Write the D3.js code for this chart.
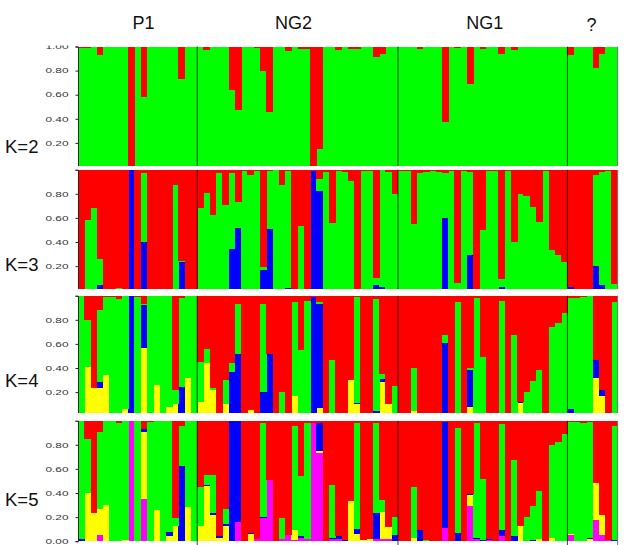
<!DOCTYPE html>
<html>
<head>
<meta charset="utf-8">
<script src="https://cdn.jsdelivr.net/npm/d3@7"></script>
<style>
  body { margin: 0; background: #fff; }
  svg { display: block; }
</style>
</head>
<body>
<svg id="chart" width="626" height="545"></svg>
<script>
// populations, in plot order, and how many individuals each one has
const groups = ['P1', 'NG2', 'NG1', '?'];
const groupSizes = [19, 32, 27, 8];
const kLabels = ['K=2', 'K=3', 'K=4', 'K=5'];
const yTicks = [0, 0.2, 0.4, 0.6, 0.8, 1];

// K=2: green share per individual (red is the rest)
const k2 = [
  0.99, 0.99, 1, 0.93, 1, 1, 1, 1, 0, 1, 0.58, 1, 1, 1, 1, 1, 0.73, 1, 1,
  1, 0.97, 1, 1, 1, 0.64, 0.47, 1, 1, 0.99, 0.8, 0.46, 1, 1, 0.96, 1, 0.98, 0.98, 0, 0.15,
  1, 1, 0.97, 1, 0.98, 0.98, 1, 1, 0.91, 0.94, 1, 1,
  1, 1, 1, 0.98, 1, 1, 1, 0.37, 1, 0.99, 1, 0.69, 1, 0.98, 1, 1, 0.94, 1, 0.97, 1, 1, 1, 1, 1, 1, 1, 1,
  0.93, 1, 1, 1, 0.82, 0.94, 1, 1
];

// K=3: [blue, green] (red is the rest)
const k3 = [
  [0, 0], [0, 0.58], [0, 0.68], [0.04, 0.22], [0, 0], [0, 0], [0, 0.02], [0, 0], [1, 0], [0, 0],
  [0.4, 0.57], [0, 0], [0, 0], [0, 0], [0, 0], [0, 0.87], [0.23, 0.01], [0, 0], [0, 0],
  [0, 0.68], [0.01, 0.8], [0, 0.62], [0, 0.97], [0, 0.71], [0.34, 0.63], [0.52, 0.21], [0, 0.99],
  [0, 0.96], [0, 0.99], [0.17, 0.02], [0.51, 0.48], [0, 1], [0, 0.87], [0.02, 0.97], [0.01, 0],
  [0.01, 0.52], [0, 0], [0.99, 0], [0.82, 0.1], [0, 0.98], [0, 0.56], [0.01, 0.98], [0, 0.98],
  [0.01, 0.9], [0, 0], [0, 0.99], [0, 0.99], [0.04, 0.06], [0.03, 0.97], [0, 0.98], [0, 0.8],
  [0, 0.99], [0.01, 0.98], [0, 0.55], [0.01, 0.96], [0, 0.98], [0, 0.99], [0, 0.98], [0.6, 0.37],
  [0, 0.99], [0, 0.06], [0, 0.99], [0.29, 0.69], [0, 0], [0, 0.5], [0, 0.99], [0, 0.99],
  [0.03, 0.06], [0, 0.99], [0, 0.4], [0, 0.8], [0, 0.78], [0, 0.69], [0, 0.57], [0, 0.99],
  [0, 0.33], [0, 0.29], [0, 0.23],
  [0.03, 0], [0, 0.01], [0, 0], [0, 0], [0.2, 0.76], [0.04, 0.94], [0, 0.99], [0, 0.05]
];

// K=4: [yellow, blue, green] (red is the rest)
const k4 = [
  [0, 0, 1], [0.41, 0, 0.39], [0.23, 0, 0], [0.23, 0.05, 0.6], [0.34, 0, 0.65], [0, 0, 0.99],
  [0, 0, 0.97], [0.06, 0, 0.94], [0, 1, 0], [0, 0, 0.99], [0.57, 0.35, 0.01], [0, 0, 1],
  [0.26, 0, 0.74], [0.03, 0, 0.97], [0.08, 0, 0.92], [0.1, 0, 0.12], [0, 0.24, 0.74],
  [0.32, 0, 0.68], [0, 0, 1],
  [0.12, 0, 0.33], [0.44, 0, 0.12], [0.22, 0, 0.01], [0.02, 0, 0], [0.1, 0, 0.2], [0, 0.37, 0.07],
  [0, 0.52, 0.41], [0, 0, 0], [0.05, 0, 0], [0, 0, 0], [0, 0.2, 0.73], [0, 0.52, 0], [0, 0, 0],
  [0, 0, 0.2], [0, 0.02, 0], [0.17, 0, 0.78], [0, 0, 0.55], [0, 0, 0.96], [0, 0.99, 0],
  [0.07, 0.86, 0.02], [0, 0, 0], [0, 0.01, 0.46], [0, 0, 0], [0, 0, 0], [0.3, 0, 0],
  [0.1, 0.01, 0.88], [0, 0, 0], [0, 0, 0], [0, 0.04, 0.93], [0.28, 0.03, 0.04], [0.1, 0, 0],
  [0, 0, 0.25],
  [0, 0, 0], [0, 0, 0], [0.04, 0, 0.36], [0, 0, 0.02], [0, 0, 0], [0, 0, 0], [0, 0, 0],
  [0, 0.61, 0.06], [0, 0, 0], [0, 0, 0.95], [0, 0, 0], [0.08, 0.3, 0.02], [0, 0.01, 0.97],
  [0, 0, 0.49], [0, 0.01, 0], [0, 0, 0], [0, 0.01, 0.95], [0, 0, 0], [0, 0, 0.67],
  [0.11, 0.01, 0], [0.01, 0, 0.19], [0, 0, 0.29], [0.01, 0, 0.37], [0, 0, 0], [0, 0, 0.74],
  [0, 0, 0.77], [0, 0, 0.86],
  [0, 0.06, 0.92], [0, 0, 0.98], [0, 0, 0.99], [0, 0, 1], [0.32, 0.15, 0], [0.17, 0.05, 0],
  [0, 0, 0], [0, 0, 0.95]
];

// K=5: [magenta, yellow, blue, green] (red is the rest)
const k5 = [
  [0, 0, 0.015, 0.985], [0, 0.4, 0, 0.45], [0, 0.23, 0, 0], [0.05, 0.22, 0, 0.64],
  [0, 0.3, 0, 0.7], [0, 0, 0, 1], [0, 0, 0, 0.98], [0, 0.01, 0, 0.99], [1, 0, 0, 0],
  [0, 0, 0, 1], [0.35, 0.56, 0.02, 0], [0, 0, 0, 0.99], [0, 0.26, 0, 0.74], [0, 0, 0, 1],
  [0, 0.04, 0.04, 0.92], [0, 0.13, 0, 0.06], [0, 0, 0.62, 0.34], [0, 0.28, 0, 0.72], [0, 0, 0, 1],
  [0, 0.13, 0, 0.32], [0, 0.46, 0.01, 0.08], [0, 0.22, 0.01, 0.32], [0, 0.03, 0.01, 0],
  [0, 0.13, 0.01, 0.13], [0, 0, 1, 0], [0.16, 0, 0.84, 0], [0, 0, 0, 0], [0, 0.06, 0.01, 0],
  [0.02, 0, 0, 0], [0.19, 0, 0.01, 0.78], [0.51, 0, 0, 0], [0, 0, 0, 0], [0.02, 0, 0, 0.17],
  [0.05, 0, 0, 0], [0.01, 0.08, 0, 0.87], [0.03, 0, 0.01, 0.5], [0.02, 0, 0, 0.96],
  [0.98, 0, 0, 0], [0.73, 0.02, 0.23, 0], [0, 0, 0, 0], [0.02, 0, 0.01, 0.44],
  [0.02, 0, 0.02, 0], [0, 0, 0.01, 0], [0, 0.33, 0, 0], [0, 0.06, 0.04, 0.88],
  [0, 0.01, 0, 0], [0, 0.02, 0, 0], [0.02, 0, 0.21, 0.75], [0.02, 0.22, 0, 0.1],
  [0.02, 0.1, 0, 0], [0, 0, 0.05, 0.15],
  [0, 0, 0, 0], [0, 0, 0, 0], [0, 0.03, 0, 0.42], [0, 0, 0.09, 0], [0, 0, 0, 0.01],
  [0, 0, 0, 0], [0, 0, 0, 0], [0.11, 0, 0.88, 0], [0, 0, 0, 0], [0, 0, 0.07, 0.87],
  [0, 0, 0, 0], [0.29, 0.09, 0.01, 0], [0.02, 0, 0.01, 0.95], [0, 0, 0.01, 0.51],
  [0.01, 0, 0.01, 0], [0, 0, 0, 0], [0.04, 0, 0.05, 0.88], [0, 0, 0, 0], [0, 0, 0.04, 0.63],
  [0, 0.13, 0, 0], [0, 0, 0, 0.2], [0, 0, 0.01, 0.28], [0, 0.02, 0, 0.4], [0, 0, 0, 0],
  [0, 0.03, 0, 0.77], [0, 0, 0, 0.82], [0, 0, 0, 0.89],
  [0.05, 0.01, 0, 0.93], [0, 0, 0, 0.99], [0, 0, 0, 0.98], [0, 0.02, 0.01, 0.96],
  [0.18, 0.3, 0, 0], [0.05, 0.17, 0, 0], [0.01, 0, 0, 0], [0, 0, 0.01, 0.95]
];

const colors = {
  red: '#ff0000', green: '#00ff00', blue: '#0000ff', yellow: '#ffff00', magenta: '#ff00ff'
};

// stacking order, bottom to top; red always fills the remainder
const panelKeys = [
  ['green', 'red'],
  ['blue', 'green', 'red'],
  ['yellow', 'blue', 'green', 'red'],
  ['magenta', 'yellow', 'blue', 'green', 'red']
];
const panelData = [k2.map(v => [v]), k3, k4, k5];

// layout
const plotLeft = 78, plotRight = 617.6;
const panelTops = [46.5, 169.7, 295.7, 420.7];
const panelCuts = [166, 289, 413, 545];
const panelH = 120.5;
const kLabelY = [153, 271, 387, 506];
const groupLabelDx = [6, -4, 2, -1];

const svg = d3.select('#chart');
const nInd = d3.sum(groupSizes);

const x = d3.scaleBand()
  .domain(d3.range(nInd))
  .range([plotLeft, plotRight])
  .padding(0);

// x position of every group boundary
const bounds = [0, ...d3.cumsum(groupSizes)];
const xEdge = i => (i >= nInd ? plotRight : x(i));

const toRows = (arr, keys) => arr.map((vals, i) => {
  const row = { i };
  keys.slice(0, -1).forEach((k, j) => { row[k] = vals[j] || 0; });
  row.red = Math.max(0, 1 - d3.sum(vals));
  return row;
});

panelKeys.forEach((keys, p) => {
  const top = panelTops[p];
  const y = d3.scaleLinear().domain([0, 1]).range([top + panelH, top]);
  const clipTop = p === 0 ? 45.5 : top - 0.5;

  const clipId = `clip-${p}`;
  svg.append('clipPath').attr('id', clipId)
    .append('rect')
    .attr('x', 0).attr('y', clipTop)
    .attr('width', 626).attr('height', panelCuts[p] - clipTop);

  const g = svg.append('g').attr('clip-path', `url(#${clipId})`);

  const series = d3.stack().keys(keys)(toRows(panelData[p], keys));

  g.append('g')
    .selectAll('g')
    .data(series)
    .join('g')
    .attr('fill', s => colors[s.key])
    .selectAll('rect')
    .data(s => s)
    .join('rect')
    .attr('x', d => x(d.data.i))
    .attr('width', x.bandwidth() + 0.4)
    .attr('y', d => y(d[1]))
    .attr('height', d => Math.max(0, y(d[0]) - y(d[1])))
    .attr('shape-rendering', 'crispEdges');

  // population separators
  g.append('g')
    .selectAll('line')
    .data(bounds.slice(1, -1))
    .join('line')
    .attr('x1', b => xEdge(b)).attr('x2', b => xEdge(b))
    .attr('y1', top).attr('y2', panelCuts[p])
    .attr('stroke', '#111')
    .attr('stroke-width', 1)
    .attr('opacity', 0.8);

  g.append('line')
    .attr('x1', plotRight).attr('x2', plotRight)
    .attr('y1', top).attr('y2', panelCuts[p])
    .attr('stroke', '#777')
    .attr('stroke-width', 1);

  // y axis
  const yAxis = g.append('g')
    .attr('transform', `translate(${plotLeft},0)`)
    .call(d3.axisLeft(y).tickValues(yTicks).tickSize(2.5).tickPadding(7)
      .tickFormat(d3.format('.2f')));
  yAxis.select('.domain').attr('stroke', '#222');
  yAxis.selectAll('.tick line').attr('stroke', '#222');
  yAxis.selectAll('.tick text')
    .attr('fill', '#333')
    .style('font-family', 'Liberation Sans, Arial, sans-serif')
    .style('font-size', '7px')
    .attr('textLength', 23)
    .attr('lengthAdjust', 'spacingAndGlyphs')
    .filter(d => (d === 1 && p > 0) || (d === 0 && p < 3))
    .remove();

  svg.append('text')
    .attr('x', 5)
    .attr('y', kLabelY[p])
    .attr('fill', '#111')
    .style('font-family', 'Liberation Sans, Arial, sans-serif')
    .style('font-size', '18.5px')
    .text(kLabels[p]);
});

// population names on top
svg.append('g')
  .selectAll('text')
  .data(groups)
  .join('text')
  .attr('x', (d, i) => (xEdge(bounds[i]) + xEdge(bounds[i + 1])) / 2 + groupLabelDx[i])
  .attr('y', (d, i) => (d === '?' ? 31 : 28.5))
  .attr('text-anchor', 'middle')
  .attr('fill', '#111')
  .style('font-family', 'Liberation Sans, Arial, sans-serif')
  .style('font-size', '18px')
  .text(d => d);
</script>
</body>
</html>
